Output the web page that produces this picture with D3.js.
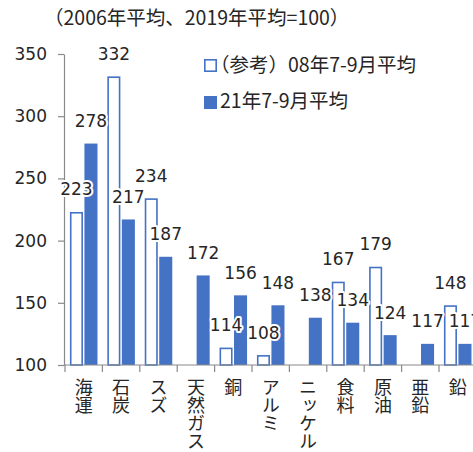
<!DOCTYPE html>
<html>
<head>
<meta charset="utf-8">
<script src="https://cdn.jsdelivr.net/npm/d3@7"></script>
<style>
  body { margin: 0; background: white; }
  svg { display: block; }
</style>
</head>
<body>
<div id="chart"></div>
<script>
const width = 473
const height = 452
const blue = '#4472C4'
const axisColor = '#898989'
const textColor = '#262626'

// data
const categories = ['海運', '石炭', 'スズ', '天然ガス', '銅', 'アルミ', 'ニッケル', '食料', '原油', '亜鉛', '鉛']
const values08 = [223, 332, 234, null, 114, 108, null, 167, 179, null, 148]
const values21 = [278, 217, 187, 172, 156, 148, 138, 134, 124, 117, 117]
const yTicks = [100, 150, 200, 250, 300, 350]
const seriesNames = ['（参考）08年7-9月平均', '21年7-9月平均']
const titleText = '（2006年平均、2019年平均=100）'

const svg = d3.select('#chart').append('svg')
	.attr('width', width)
	.attr('height', height)

// scales
var y = d3.scaleLinear()
	.domain([100, 350])
	.range([365, 54])
var x0 = d3.scaleBand()
	.domain(categories)
	.range([65, 476.4])
var x1 = d3.scaleBand()
	.domain(['08', '21'])
	.range([0, x0.bandwidth()])
	.paddingInner(0.1)
	.paddingOuter(0.34)

// title
svg.append('text')
	.attr('x', 44)
	.attr('y', 25)
	.style('font-family', '"Noto Sans CJK JP"')
	.style('font-size', '19.5px')
	.style('fill', textColor)
	.text(titleText)

// y axis
var gy = svg.append('g')
	.attr('transform', 'translate(64,0)')
	.call(d3.axisLeft(y).tickValues(yTicks).tickSize(6).tickSizeOuter(0).tickPadding(11))
gy.select('.domain').attr('stroke', axisColor).attr('stroke-width', 1.2)
gy.selectAll('.tick line').attr('stroke', axisColor).attr('stroke-width', 1.2)
gy.selectAll('.tick text')
	.style('font-family', '"DejaVu Sans"')
	.style('font-size', '17px')
	.style('fill', textColor)

// bars
const rows = categories.map((c, i) => ({ c: c, v08: values08[i], v21: values21[i] }))
const sw = 1.6
svg.append('g').selectAll('rect')
	.data(rows.filter(d => d.v08 != null))
	.enter()
	.append('rect')
	.attr('x', d => x0(d.c) + x1('08') + sw / 2)
	.attr('y', d => y(d.v08) + sw / 2)
	.attr('width', x1.bandwidth() - sw)
	.attr('height', d => y(100) - y(d.v08) - sw / 2)
	.style('fill', 'white')
	.style('stroke', blue)
	.style('stroke-width', sw)

svg.append('g').selectAll('rect')
	.data(rows)
	.enter()
	.append('rect')
	.attr('x', d => x0(d.c) + x1('21'))
	.attr('y', d => y(d.v21))
	.attr('width', x1.bandwidth())
	.attr('height', d => y(100) - y(d.v21))
	.style('fill', blue)

// x axis
var gx = svg.append('g')
gx.append('line')
	.attr('x1', 64)
	.attr('x2', x0.range()[1])
	.attr('y1', y(100))
	.attr('y2', y(100))
	.style('stroke', axisColor)
	.style('stroke-width', 1.2)
gx.selectAll('.xtick')
	.data(categories)
	.enter()
	.append('line')
	.attr('class', 'xtick')
	.attr('x1', d => x0(d))
	.attr('x2', d => x0(d))
	.attr('y1', y(100))
	.attr('y2', y(100) + 7)
	.style('stroke', axisColor)
	.style('stroke-width', 1.2)

// vertical category labels
gx.selectAll('.xlab')
	.data(categories)
	.enter()
	.append('text')
	.attr('class', 'xlab')
	.attr('x', d => x0(d) + x0.bandwidth() / 2)
	.attr('y', y(100) + 13)
	.style('writing-mode', 'vertical-rl')
	.style('font-family', '"Noto Sans CJK JP"')
	.style('font-size', '18px')
	.style('fill', textColor)
	.text(d => d)

// value labels with white halo
function addLabels (key, data) {
	svg.append('g').selectAll('text')
		.data(data)
		.enter()
		.append('text')
		.attr('x', d => x0(d.c) + x1(key) + x1.bandwidth() / 2)
		.attr('y', d => y(d['v' + key]) - 16.5)
		.attr('text-anchor', 'middle')
		.style('font-family', '"DejaVu Sans"')
		.style('font-size', '17px')
		.style('fill', textColor)
		.style('stroke', 'white')
		.style('stroke-width', 4)
		.style('stroke-linejoin', 'round')
		.style('paint-order', 'stroke')
		.text(d => d['v' + key])
}
addLabels('08', rows.filter(d => d.v08 != null))
addLabels('21', rows)

// legend
var legend = svg.append('g')
legend.append('rect')
	.attr('x', 204.8).attr('y', 59.8)
	.attr('width', 11.4).attr('height', 11.4)
	.style('fill', 'white').style('stroke', blue).style('stroke-width', sw)
legend.append('rect')
	.attr('x', 204).attr('y', 96)
	.attr('width', 13).attr('height', 13)
	.style('fill', blue)
legend.selectAll('text')
	.data(seriesNames)
	.enter()
	.append('text')
	.attr('x', (d, i) => i == 0 ? 210 : 220)
	.attr('y', (d, i) => 72 + i * 36)
	.style('font-family', '"Noto Sans CJK JP"')
	.style('font-size', '19.5px')
	.style('fill', textColor)
	.text(d => d)
</script>
</body>
</html>
